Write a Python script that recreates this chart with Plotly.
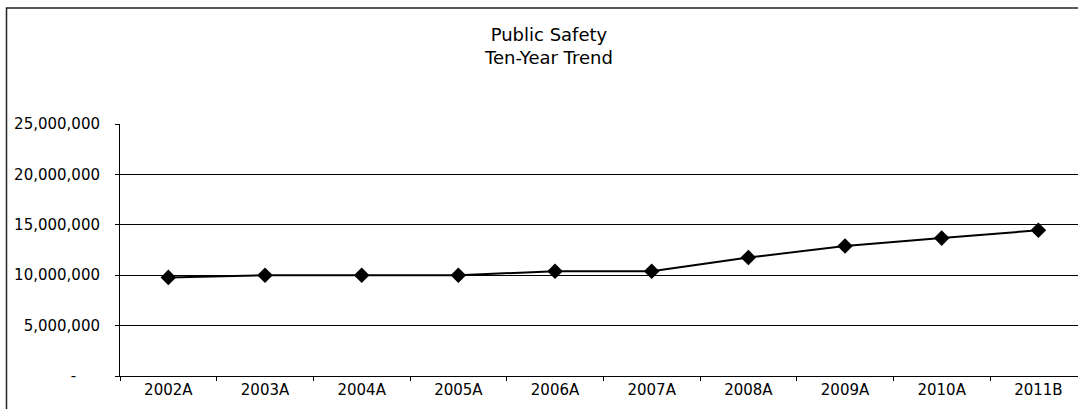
import plotly.graph_objects as go

categories = ["2002A", "2003A", "2004A", "2005A", "2006A", "2007A", "2008A", "2009A", "2010A", "2011B"]
values = [9780000, 10000000, 10000000, 10000000, 10390000, 10390000, 11750000, 12900000, 13680000, 14460000]
tick_vals = [0, 5000000, 10000000, 15000000, 20000000, 25000000]
tick_text = ["-" + "\u00a0" * 5, "5,000,000", "10,000,000", "15,000,000", "20,000,000", "25,000,000"]
title_lines = ["Public Safety", "Ten-Year Trend"]

W, H = 1078, 409
L, R, T, B = 120, 0, 124, 33
pw, ph = W - L - R, H - T - B

def px_x(p):
    return (p - L) / pw

def px_y(p):
    return (H - B - p) / ph

fig = go.Figure()
fig.add_trace(go.Scatter(
    x=categories, y=values, mode="lines+markers",
    line=dict(color="#000000", width=2),
    marker=dict(symbol="diamond", size=12, color="#000000"),
    showlegend=False, cliponaxis=False,
))

font = "DejaVu Sans, Arial, sans-serif"
fig.update_layout(
    width=W, height=H,
    margin=dict(l=L, r=R, t=T, b=B),
    paper_bgcolor="white", plot_bgcolor="white",
    font=dict(family=font, size=15, color="#000000"),
    xaxis=dict(
        type="category", range=[-0.5, 9.41],
        showgrid=False, showline=True, linecolor="#000000", linewidth=1,
        ticks="outside", ticklen=4, tickcolor="#000000", tickson="boundaries",
        tickfont=dict(size=15), zeroline=False,
    ),
    yaxis=dict(
        range=[0, 25000000], tickvals=tick_vals, ticktext=tick_text,
        showgrid=True, gridcolor="#000000", gridwidth=0.8,
        showline=True, linecolor="#000000", linewidth=1,
        ticks="outside", ticklen=4, tickcolor="#000000",
        tickfont=dict(size=15), zeroline=False, ticklabelstandoff=12,
    ),
    annotations=[dict(
        text="<br>".join(title_lines), xref="paper", yref="paper",
        x=px_x(548), y=px_y(22), xanchor="center", yanchor="top",
        showarrow=False, font=dict(family=font, size=18, color="#000000"),
    )],
    shapes=[dict(
        type="rect", xref="paper", yref="paper",
        x0=px_x(6.5), x1=px_x(1200), y0=px_y(8), y1=px_y(600),
        line=dict(color="#222222", width=1.5), layer="below",
    )],
)

fig.write_html("out.html")
